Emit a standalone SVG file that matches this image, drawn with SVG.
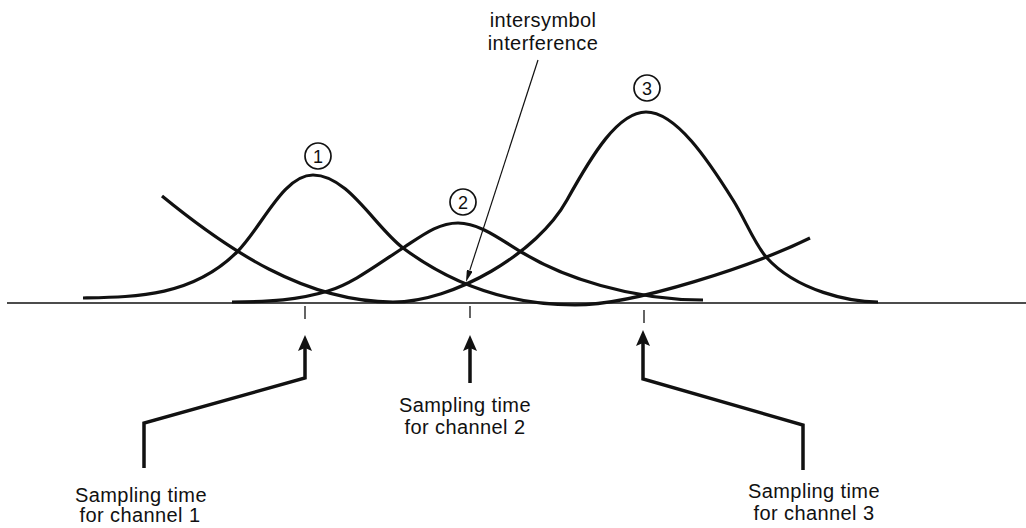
<svg xmlns="http://www.w3.org/2000/svg" width="1026" height="528" viewBox="0 0 1026 528">
<style>
.curve{fill:none;stroke:#111;stroke-width:3.2;stroke-linecap:butt;stroke-linejoin:round}
.axis{fill:none;stroke:#111;stroke-width:1.3}
.tick{fill:none;stroke:#111;stroke-width:1.3}
.thick{fill:none;stroke:#111;stroke-width:3.5;stroke-linejoin:miter}
.thin{fill:none;stroke:#111;stroke-width:1.2}
.lbl{font-family:"Liberation Sans",Arial,Helvetica,sans-serif;font-size:20px;fill:#111;text-anchor:middle;letter-spacing:0.4px}
.num{font-family:"Liberation Sans",Arial,Helvetica,sans-serif;font-size:18px;fill:#111;text-anchor:middle}
.ring{fill:none;stroke:#111;stroke-width:1.7}
</style>
<defs>
<marker id="big" viewBox="0 0 16 14" refX="3" refY="7" markerWidth="16" markerHeight="14" orient="auto" markerUnits="userSpaceOnUse">
<path d="M0,0 L16,7 L0,14 L3,7 z" fill="#111"/>
</marker>
<marker id="small" viewBox="0 0 12 6" refX="0" refY="3" markerWidth="12" markerHeight="6" orient="auto" markerUnits="userSpaceOnUse">
<path d="M0,0 L12,3 L0,6 z" fill="#111"/>
</marker>
</defs>
<g id="axis">
<line class="axis" x1="7" y1="303" x2="1026" y2="303"/>
<line class="tick" x1="305" y1="306" x2="305" y2="319"/>
<line class="tick" x1="470" y1="306" x2="470" y2="318"/>
<line class="tick" x1="644" y1="310" x2="644" y2="323"/>
</g>
<g id="pulse1">
<path class="curve" d="M83,298 C134,297 192,297 237,252 C262,227 283,175 313,175 C348,175 375,227 403,248 C458,289 515,305 575,305 C635,305 755,265 810,238"/>
<circle class="ring" cx="318" cy="156" r="13"/>
<text class="num" x="318" y="162.5">1</text>
</g>
<g id="pulse2">
<path class="curve" d="M232,302 C270,302 298,300 328,291 C353,283.5 378,264 403,248 C423,235 438,223 458,223 C480,223 501,240 523,253 C563,277 630,300 703,300"/>
<circle class="ring" cx="463" cy="202" r="13"/>
<text class="num" x="463" y="208.5">2</text>
</g>
<g id="pulse3">
<path class="curve" d="M162,196 C228,250 305,302 393,302 C453,302 537,254 567,200 C592,155 618,112 646,112 C676,112 708,160 733,200 C745,219 755,245 767,258 C797,291 850,302 878,302"/>
<circle class="ring" cx="647" cy="88" r="13"/>
<text class="num" x="647" y="94.5">3</text>
</g>
<g id="connectors">
<path class="thick" d="M144,468 L144,423 L305,378 L305,348" marker-end="url(#big)"/>
<path class="thick" d="M470,383 L470,348" marker-end="url(#big)"/>
<path class="thick" d="M803,470 L803,425 L643,379 L643,343" marker-end="url(#big)"/>
<path class="thin" d="M538,60 L469.7,270.6" marker-end="url(#small)"/>
</g>
<g id="label-isi">
<text class="lbl" x="543" y="27">intersymbol</text>
<text class="lbl" x="543" y="50">interference</text>
</g>
<g id="label-ch1">
<text class="lbl" x="141" y="502">Sampling time</text>
<text class="lbl" x="140" y="522">for channel 1</text>
</g>
<g id="label-ch2">
<text class="lbl" x="465" y="412">Sampling time</text>
<text class="lbl" x="465" y="434">for channel 2</text>
</g>
<g id="label-ch3">
<text class="lbl" x="814" y="498">Sampling time</text>
<text class="lbl" x="814" y="520">for channel 3</text>
</g>
</svg>
